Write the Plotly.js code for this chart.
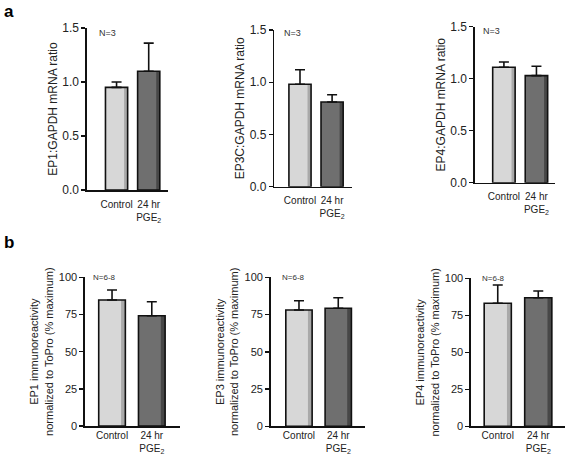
<!DOCTYPE html>
<html>
<head>
<meta charset="utf-8">
<script src="https://cdn.plot.ly/plotly-3.0.1.min.js"></script>
<style>html,body{margin:0;padding:0;background:#fff;}#chart{width:567px;height:455px;}</style>
</head>
<body>
<div id="chart"></div>
<script>
// ---- data ----
const groups = ['Control', '24 hr<br>PGE<sub>2</sub>'];

const ep1Mrna = [0.95, 1.10];
const ep1MrnaErr = [0.05, 0.26];
const ep3cMrna = [0.98, 0.81];
const ep3cMrnaErr = [0.14, 0.07];
const ep4Mrna = [1.11, 1.03];
const ep4MrnaErr = [0.05, 0.09];

const ep1Ir = [84.7, 74.2];
const ep1IrErr = [6.8, 9.4];
const ep3Ir = [78.1, 79.2];
const ep3IrErr = [6.2, 7.1];
const ep4Ir = [83.2, 86.9];
const ep4IrErr = [12.3, 4.5];

const mrnaTitles = ['EP1:GAPDH mRNA ratio', 'EP3C:GAPDH mRNA ratio', 'EP4:GAPDH mRNA ratio'];
const irTitles = ['EP1 immunoreactivity<br>normalized to ToPro (% maximum)',
                  'EP3 immunoreactivity<br>normalized to ToPro (% maximum)',
                  'EP4 immunoreactivity<br>normalized to ToPro (% maximum)'];
const nLabelA = 'N=3';
const nLabelB = 'N=6-8';

// ---- styles ----
const FONT = 'Liberation Sans, Arial, sans-serif';
const fillCols = ['#d7d7d7', '#6f6f6f'];
const stripCols = ['#a9a9a9', '#474747'];

const panels = [
  {vals: ep1Mrna, err: ep1MrnaErr, title: mrnaTitles[0], nl: nLabelA, xd: [0.1534, 0.2963], yd: [0.5824, 0.9385], xr: [-0.92, 1.60], yr: [0, 1.5], dt: 0.5, fmt: '.1f', bw: 0.69, tf: 12, nx: 0.12, ny: 0.97},
  {vals: ep3cMrna, err: ep3cMrnaErr, title: mrnaTitles[1], nl: nLabelA, xd: [0.4838, 0.6208], yd: [0.5897, 0.9341], xr: [-0.80, 1.62], yr: [0, 1.5], dt: 0.5, fmt: '.1f', bw: 0.69, tf: 12, nx: 0.095, ny: 0.98},
  {vals: ep4Mrna, err: ep4MrnaErr, title: mrnaTitles[2], nl: nLabelA, xd: [0.8377, 0.9788], yd: [0.5985, 0.9413], xr: [-0.89, 1.57], yr: [0, 1.5], dt: 0.5, fmt: '.1f', bw: 0.69, tf: 12, nx: 0.075, ny: 0.97},
  {vals: ep1Ir, err: ep1IrErr, title: irTitles[0], nl: nLabelB, xd: [0.1499, 0.3175], yd: [0.0637, 0.3905], xr: [-0.68, 1.71], yr: [0, 100], dt: 25, fmt: 'd', bw: 0.67, tf: 11, nx: 0.06, ny: 1.0},
  {vals: ep3Ir, err: ep3IrErr, title: irTitles[1], nl: nLabelB, xd: [0.4774, 0.6437], yd: [0.0630, 0.3905], xr: [-0.72, 1.68], yr: [0, 100], dt: 25, fmt: 'd', bw: 0.67, tf: 11, nx: 0.10, ny: 1.0},
  {vals: ep4Ir, err: ep4IrErr, title: irTitles[2], nl: nLabelB, xd: [0.8307, 0.9965], yd: [0.0630, 0.3883], xr: [-0.66, 1.66], yr: [0, 100], dt: 25, fmt: 'd', bw: 0.67, tf: 11, nx: 0.096, ny: 1.0}
];

const data = [];
const layout = {
  width: 567, height: 455,
  margin: {l: 0, r: 0, t: 0, b: 0},
  paper_bgcolor: '#ffffff', plot_bgcolor: 'rgba(0,0,0,0)',
  showlegend: false, barmode: 'overlay',
  font: {family: FONT, color: '#222'},
  annotations: []
};

panels.forEach((p, i) => {
  const n = i + 1;
  const xa = 'x' + (n === 1 ? '' : n), ya = 'y' + (n === 1 ? '' : n);
  const stripW = p.bw * 0.16;
  // main fill
  data.push({type: 'bar', x: groups, y: p.vals, xaxis: xa, yaxis: ya,
    width: p.bw, offset: -p.bw / 2,
    marker: {color: fillCols, line: {width: 0}}, hoverinfo: 'skip'});
  // right-side shading strip
  data.push({type: 'bar', x: groups, y: p.vals, xaxis: xa, yaxis: ya,
    width: stripW, offset: p.bw / 2 - stripW,
    marker: {color: stripCols, line: {width: 0}}, hoverinfo: 'skip'});
  // outline + upward error bars
  data.push({type: 'bar', x: groups, y: p.vals, xaxis: xa, yaxis: ya,
    width: p.bw, offset: -p.bw / 2,
    marker: {color: 'rgba(0,0,0,0)', line: {width: 1.6, color: '#111'}},
    error_y: {type: 'data', symmetric: false, array: p.err, arrayminus: p.err.map(() => 0),
      color: '#111', thickness: 1.6, width: 5},
    hoverinfo: 'skip'});

  const xk = 'xaxis' + (n === 1 ? '' : n), yk = 'yaxis' + (n === 1 ? '' : n);
  layout[xk] = {domain: p.xd, anchor: ya, type: 'category', range: p.xr,
    showline: true, linecolor: '#111', linewidth: 1.6, ticks: '', showgrid: false, zeroline: false,
    ticklabelstandoff: i < 3 ? 4 : -1,
    tickfont: {family: FONT, size: 10, color: '#222'}, fixedrange: true};
  layout[yk] = {domain: p.yd, anchor: xa, range: p.yr, dtick: p.dt, tick0: 0, tickformat: p.fmt,
    showline: true, linecolor: '#111', linewidth: 1.6, ticks: 'outside', ticklen: 4, tickwidth: 1.4, tickcolor: '#111',
    showgrid: false, zeroline: false, fixedrange: true,
    tickfont: {family: FONT, size: p.tf, color: '#222'},
    title: {text: p.title, font: {family: FONT, size: i < 3 ? 12 : 11, color: '#222'}, standoff: i < 3 ? 2 : 3}};
  layout.annotations.push({xref: xa + ' domain', yref: ya + ' domain', x: p.nx, y: p.ny,
    xanchor: 'left', yanchor: 'middle', showarrow: false, text: p.nl,
    font: {family: FONT, size: i < 3 ? 9 : 8, color: '#333'}});
});

layout.annotations.push({xref: 'paper', yref: 'paper', x: 2 / 567, y: 1 - 0 / 455, xanchor: 'left', yanchor: 'top',
  showarrow: false, text: '<b>a</b>', font: {family: FONT, size: 17, color: '#000'}});
layout.annotations.push({xref: 'paper', yref: 'paper', x: 2 / 567, y: 1 - 231 / 455, xanchor: 'left', yanchor: 'top',
  showarrow: false, text: '<b>b</b>', font: {family: FONT, size: 17, color: '#000'}});

Plotly.newPlot('chart', data, layout, {staticPlot: true, displayModeBar: false});
</script>
</body>
</html>
